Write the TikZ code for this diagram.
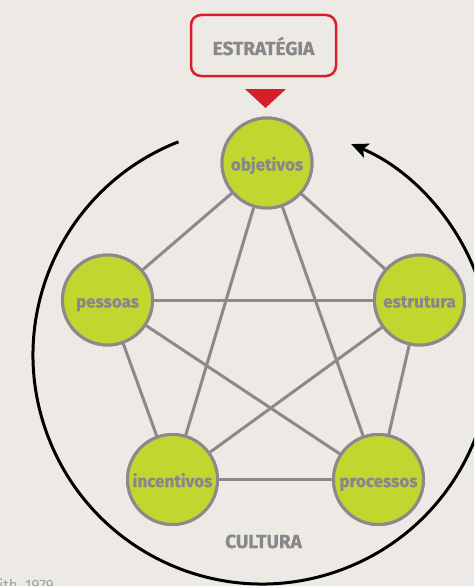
\documentclass[tikz,border=0pt]{standalone}
\usepackage{fontspec}
\setmainfont{Fira Sans}
\newfontfamily\heavyfont{Fira Sans}[UprightFont=*-Bold, FakeBold=0.8]
\usetikzlibrary{arrows.meta,calc}
\definecolor{bg}{RGB}{237,234,229}
\definecolor{lime}{RGB}{193,214,47}
\definecolor{ringgray}{RGB}{138,138,141}
\definecolor{txtgray}{RGB}{135,136,140}
\definecolor{redc}{RGB}{213,32,42}
\definecolor{notegray}{RGB}{160,160,160}
\tikzset{
  elem/.style={circle, draw=ringgray, line width=3pt, fill=lime, minimum size=90pt, inner sep=0pt,
    text height=17pt, text depth=2pt,
    text=txtgray, font=\fontsize{17}{17}\heavyfont},
  link/.style={draw=ringgray, line width=3pt},
  caps/.style={text=txtgray, font=\fontsize{19}{19}\heavyfont, inner sep=0pt},
}
\begin{document}
\begin{tikzpicture}[x=1pt,y=1pt]
\useasboundingbox (0,0) rectangle (474,-586);
\clip (0,0) rectangle (474,-586);
\fill[bg] (0,0) rectangle (474,-586);
% nodes
\node[elem] (obj) at (267,-163) {objetivos};
\node[elem] (pes) at (107.5,-300) {pessoas};
\node[elem] (est) at (419.5,-300) {estrutura};
\node[elem] (inc) at (172.5,-479.5) {incentivos};
\node[elem] (pro) at (378.5,-479.5) {processos};
% links
\path[link] (obj) -- (pes);
\path[link] (obj) -- (est);
\path[link] (obj) -- (inc);
\path[link] (obj) -- (pro);
\path[link] (pes) -- (est);
\path[link] (pes) -- (inc);
\path[link] (pes) -- (pro);
\path[link] (est) -- (inc);
\path[link] (est) -- (pro);
\path[link] (inc) -- (pro);
% redraw nodes on top
\node[elem] at (obj) {objetivos};
\node[elem] at (pes) {pessoas};
\node[elem] at (est) {estrutura};
\node[elem] at (inc) {incentivos};
\node[elem] at (pro) {processos};
% strategy box
\node[draw=redc, line width=2.5pt, rounded corners=10pt, fill=bg, minimum width=145pt, minimum height=61pt,
  text height=19pt, text depth=0pt, caps] (str) at (263.5,-45.5) {ESTRATÉGIA};
\coordinate (t1) at (245,-89);
\coordinate (t2) at (286,-89);
\coordinate (t3) at (265.5,-108);
\fill[redc] (t1) -- (t2) -- (t3) -- cycle;
% culture
\node[caps, anchor=base] (cul) at (263.5,-548) {CULTURA};
\coordinate (arcstart) at ($(262,-355)+(111.4:229)$);
\draw[line width=3pt, -{Stealth[length=17pt,width=15pt,inset=4pt]}] (arcstart) arc[start angle=111.4, end angle=427.1, radius=229];
% source
\node[anchor=base west, inner sep=0pt, text=notegray, font=\fontsize{15}{15}\selectfont] (src) at (-1,-590) {ith, 1979};
\end{tikzpicture}
\end{document}
